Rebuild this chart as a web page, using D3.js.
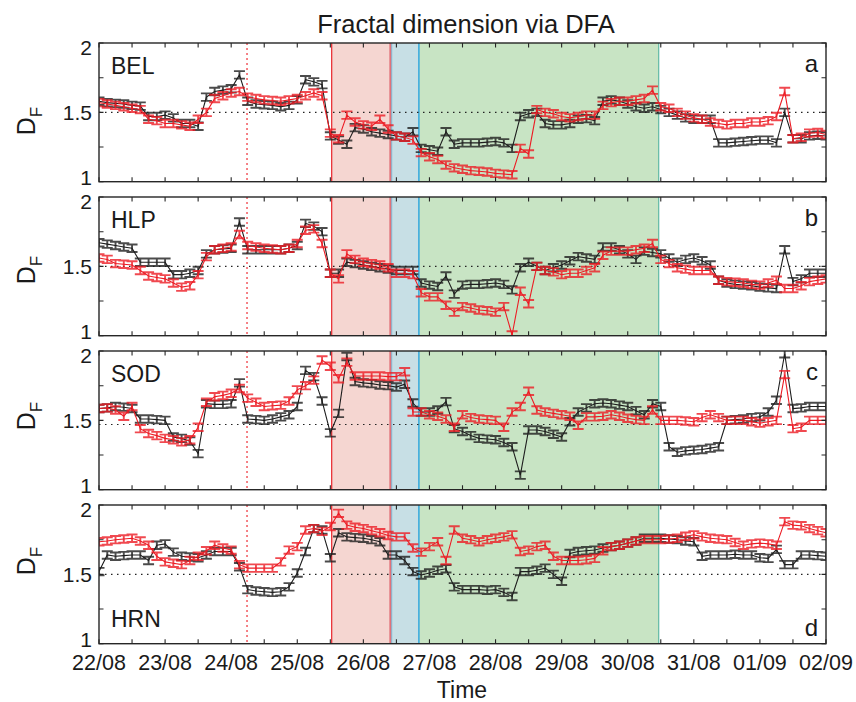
<!DOCTYPE html>
<html>
<head>
<meta charset="utf-8">
<script src="https://cdn.jsdelivr.net/npm/d3@7"></script>
<style>
  body { margin: 0; background: #fff; }
  svg { display: block; font-family: "Liberation Sans", Arial, Helvetica, sans-serif; }
</style>
</head>
<body>
<svg id="chart" width="856" height="702"></svg>
<script>
// ---- data -------------------------------------------------------------
const stations = ["BEL", "HLP", "SOD", "HRN"];
const panelLetters = ["a", "b", "c", "d"];
const tickLabelsY = [1, 1.5, 2];
const referenceLevels = [1.5, 1.5, 1.47, 1.5];

// sampling: every 3 hours from 22/08 00:00 to 02/09 00:00 (UTC)
const seriesStart = "2010-08-22T00:00Z";
const seriesEnd = "2010-09-02T00:00Z";
const sampleHours = 3;
const errorHalfWidth = 0.027;

// marked intervals and event
const periodStarts = ["2010-08-25T12:30Z", "2010-08-26T09:50Z", "2010-08-26T20:10Z"];
const periodEnds   = ["2010-08-26T09:50Z", "2010-08-26T20:10Z", "2010-08-30T11:15Z"];
const eventTime = "2010-08-24T05:45Z";

const belBlack = [
  1.58,1.57,1.565,1.56,1.55,1.545,1.47,1.47,
  1.48,1.46,1.42,1.42,1.40,1.61,1.65,1.66,
  1.67,1.77,1.58,1.56,1.555,1.55,1.54,1.55,
  1.59,1.735,1.72,1.70,1.33,1.30,1.27,1.39,
  1.38,1.36,1.35,1.34,1.33,1.32,1.36,1.24,
  1.23,1.22,1.36,1.27,1.28,1.28,1.28,1.285,
  1.29,1.28,1.24,1.47,1.49,1.50,1.42,1.41,
  1.41,1.42,1.45,1.455,1.44,1.58,1.59,1.58,
  1.56,1.54,1.53,1.54,1.52,1.50,1.48,1.46,
  1.45,1.45,1.45,1.28,1.28,1.285,1.29,1.295,
  1.30,1.30,1.28,1.50,1.31,1.31,1.33,1.335,
  1.33];
const belRed = [
  1.57,1.56,1.55,1.54,1.53,1.52,1.45,1.44,
  1.42,1.42,1.41,1.40,1.45,1.50,1.60,1.62,
  1.64,1.65,1.61,1.60,1.59,1.585,1.58,1.59,
  1.60,1.62,1.64,1.62,1.35,1.31,1.48,1.43,
  1.41,1.40,1.45,1.38,1.33,1.32,1.30,1.21,
  1.18,1.16,1.12,1.10,1.09,1.08,1.075,1.07,
  1.06,1.055,1.05,1.24,1.20,1.52,1.50,1.49,
  1.47,1.46,1.47,1.48,1.48,1.55,1.57,1.58,
  1.58,1.59,1.60,1.66,1.54,1.53,1.50,1.48,
  1.46,1.45,1.43,1.42,1.41,1.42,1.42,1.43,
  1.43,1.44,1.47,1.65,1.31,1.32,1.35,1.355,
  1.34];
const hlpBlack = [
  1.67,1.66,1.65,1.64,1.63,1.53,1.53,1.53,
  1.53,1.44,1.44,1.45,1.47,1.59,1.62,1.625,
  1.63,1.82,1.62,1.62,1.62,1.62,1.62,1.63,
  1.65,1.81,1.79,1.75,1.45,1.45,1.53,1.52,
  1.51,1.50,1.49,1.48,1.47,1.47,1.47,1.38,
  1.365,1.355,1.43,1.30,1.365,1.37,1.37,1.375,
  1.38,1.37,1.33,1.49,1.53,1.50,1.47,1.49,
  1.51,1.54,1.57,1.56,1.55,1.64,1.64,1.62,
  1.59,1.55,1.61,1.60,1.59,1.56,1.53,1.55,
  1.56,1.54,1.51,1.40,1.38,1.37,1.365,1.36,
  1.35,1.345,1.34,1.62,1.39,1.41,1.45,1.45,
  1.45];
const hlpRed = [
  1.56,1.55,1.52,1.515,1.51,1.47,1.43,1.42,
  1.41,1.38,1.35,1.36,1.44,1.57,1.62,1.63,
  1.64,1.73,1.65,1.64,1.63,1.625,1.62,1.63,
  1.665,1.76,1.77,1.665,1.45,1.41,1.59,1.55,
  1.53,1.52,1.51,1.49,1.45,1.45,1.44,1.31,
  1.28,1.28,1.22,1.17,1.21,1.20,1.185,1.18,
  1.17,1.21,1.005,1.32,1.23,1.50,1.47,1.46,
  1.44,1.45,1.45,1.47,1.49,1.58,1.61,1.61,
  1.61,1.62,1.63,1.665,1.55,1.52,1.49,1.48,
  1.47,1.47,1.47,1.40,1.39,1.385,1.38,1.37,
  1.365,1.38,1.40,1.34,1.34,1.36,1.39,1.40,
  1.41];
const sodBlack = [
  1.585,1.59,1.60,1.595,1.585,1.51,1.51,1.505,
  1.50,1.38,1.37,1.35,1.26,1.62,1.615,1.615,
  1.62,1.77,1.51,1.505,1.50,1.51,1.525,1.54,
  1.60,1.86,1.815,1.64,1.41,1.55,1.96,1.78,
  1.77,1.765,1.755,1.75,1.74,1.76,1.625,1.56,
  1.56,1.575,1.635,1.44,1.42,1.39,1.37,1.365,
  1.36,1.34,1.31,1.105,1.43,1.43,1.42,1.40,
  1.38,1.49,1.56,1.59,1.62,1.625,1.62,1.61,
  1.60,1.57,1.54,1.62,1.60,1.31,1.27,1.28,
  1.285,1.29,1.30,1.31,1.50,1.505,1.51,1.52,
  1.525,1.56,1.645,1.98,1.585,1.59,1.60,1.60,
  1.60];
const sodRed = [
  1.585,1.59,1.575,1.53,1.60,1.44,1.405,1.39,
  1.37,1.36,1.345,1.36,1.45,1.63,1.67,1.68,
  1.695,1.73,1.66,1.63,1.60,1.605,1.61,1.64,
  1.72,1.75,1.79,1.935,1.89,1.80,1.92,1.82,
  1.82,1.82,1.82,1.815,1.815,1.85,1.56,1.56,
  1.54,1.53,1.51,1.45,1.54,1.52,1.51,1.505,
  1.50,1.45,1.56,1.60,1.71,1.575,1.56,1.55,
  1.54,1.53,1.465,1.525,1.525,1.53,1.54,1.53,
  1.515,1.505,1.50,1.575,1.50,1.50,1.50,1.495,
  1.49,1.52,1.54,1.52,1.50,1.50,1.50,1.49,
  1.48,1.49,1.50,1.83,1.44,1.45,1.50,1.50,
  1.50];
const hrnBlack = [
  1.52,1.64,1.63,1.635,1.64,1.64,1.60,1.71,
  1.72,1.66,1.63,1.625,1.62,1.64,1.665,1.665,
  1.665,1.555,1.39,1.38,1.375,1.37,1.375,1.41,
  1.51,1.665,1.83,1.82,1.62,1.80,1.77,1.765,
  1.76,1.75,1.735,1.64,1.64,1.60,1.52,1.495,
  1.51,1.53,1.54,1.41,1.39,1.39,1.39,1.385,
  1.39,1.37,1.34,1.52,1.52,1.53,1.545,1.50,
  1.45,1.65,1.665,1.67,1.675,1.69,1.70,1.71,
  1.725,1.74,1.76,1.76,1.76,1.755,1.75,1.74,
  1.735,1.63,1.64,1.64,1.64,1.645,1.64,1.64,
  1.62,1.615,1.68,1.57,1.57,1.64,1.64,1.635,
  1.63];
const hrnRed = [
  1.735,1.74,1.75,1.755,1.76,1.74,1.71,1.63,
  1.59,1.58,1.57,1.60,1.63,1.67,1.71,1.69,
  1.675,1.57,1.545,1.545,1.545,1.545,1.59,1.675,
  1.70,1.82,1.83,1.81,1.845,1.94,1.855,1.84,
  1.83,1.815,1.80,1.78,1.77,1.77,1.69,1.66,
  1.70,1.735,1.60,1.82,1.76,1.75,1.735,1.75,
  1.76,1.77,1.785,1.665,1.675,1.70,1.71,1.63,
  1.60,1.60,1.60,1.605,1.615,1.67,1.70,1.71,
  1.725,1.74,1.75,1.75,1.75,1.755,1.76,1.775,
  1.785,1.77,1.76,1.755,1.75,1.73,1.71,1.72,
  1.725,1.72,1.71,1.88,1.855,1.85,1.83,1.815,
  1.80];

const darkSeries = [belBlack, hlpBlack, sodBlack, hrnBlack];
const redSeries = [belRed, hlpRed, sodRed, hrnRed];

// ---- layout -------------------------------------------------------------
const svg = d3.select("#chart");
const left = 99, right = 826;
const panelTop0 = 43, panelStep = 154, panelHeight = 138.7;
const ylabelCenters = [121, 270, 416, 561];
const darkColor = "#1e1e1e", redColor = "#ec1c24";
const periodFills = ["#f5d6d1", "#c7dfe5", "#c8e4c4"];
const inkColor = "#262626";

const t0 = new Date(seriesStart), t1 = new Date(seriesEnd);
const times = d3.utcHour.every(sampleHours).range(t0, d3.utcHour.offset(t1, 1));

const x = d3.scaleUtc().domain([t0, t1]).range([left, right]);
const fmt = d3.utcFormat("%d/%m");

// title
svg.append("text")
  .attr("x", 466).attr("y", 33)
  .attr("text-anchor", "middle")
  .attr("font-size", 25.5).attr("fill", "#1a1a1a")
  .text("Fractal dimension via DFA");

stations.forEach((name, p) => {
  const top = panelTop0 + p * panelStep;
  const bottom = top + panelHeight;
  const y = d3.scaleLinear().domain([1, 2]).range([bottom, top]);
  const g = svg.append("g");

  const clipId = "clip" + p;
  svg.append("clipPath").attr("id", clipId)
    .append("rect").attr("x", left).attr("y", top)
    .attr("width", right - left).attr("height", panelHeight);

  // shaded intervals
  periodStarts.forEach((s, k) => {
    g.append("rect")
      .attr("x", x(new Date(s))).attr("y", top)
      .attr("width", x(new Date(periodEnds[k])) - x(new Date(s)))
      .attr("height", panelHeight)
      .attr("fill", periodFills[k]);
  });
  const edge = (t, color, w) => g.append("line")
    .attr("x1", x(new Date(t))).attr("x2", x(new Date(t)))
    .attr("y1", top).attr("y2", bottom)
    .attr("stroke", color).attr("stroke-width", w);
  edge(periodStarts[0], "#e8242b", 1.2);
  edge(periodEnds[0], "#e0737a", 2.2);
  g.append("line")
    .attr("x1", x(new Date(periodEnds[0])) + 1.3).attr("x2", x(new Date(periodEnds[0])) + 1.3)
    .attr("y1", top).attr("y2", bottom)
    .attr("stroke", "#6fb7d8").attr("stroke-width", 0.8);
  edge(periodEnds[1], "#32a8de", 1.5);
  edge(periodEnds[2], "#5fb8a3", 1.2);

  // reference level
  g.append("line")
    .attr("x1", left).attr("x2", right)
    .attr("y1", y(referenceLevels[p])).attr("y2", y(referenceLevels[p]))
    .attr("stroke", "#222").attr("stroke-width", 1.1)
    .attr("stroke-dasharray", "1.5,4.5");

  // event marker
  g.append("line")
    .attr("x1", x(new Date(eventTime))).attr("x2", x(new Date(eventTime)))
    .attr("y1", top).attr("y2", bottom)
    .attr("stroke", "#ec1c24").attr("stroke-width", 1.1)
    .attr("stroke-dasharray", "2,3");

  // series with error bars
  const drawSeries = (values, color) => {
    const pts = values.map((v, i) => ({ t: times[i], v }));
    const sg = g.append("g").attr("clip-path", `url(#${clipId})`);
    sg.append("path")
      .datum(pts)
      .attr("fill", "none").attr("stroke", color).attr("stroke-width", 1.1)
      .attr("d", d3.line().x(d => x(d.t)).y(d => y(d.v)));
    sg.append("path")
      .attr("fill", "none").attr("stroke", color).attr("stroke-width", 1.9)
      .attr("stroke-opacity", 0.8)
      .attr("d", pts.map(d => {
        const cx = x(d.t), ya = y(d.v + errorHalfWidth), yb = y(d.v - errorHalfWidth);
        return `M${cx - 5.5},${ya}H${cx + 5.5}M${cx},${ya}V${yb}M${cx - 5.5},${yb}H${cx + 5.5}`;
      }).join(""));
  };
  drawSeries(darkSeries[p], darkColor);
  drawSeries(redSeries[p], redColor);

  // frame
  g.append("rect")
    .attr("x", left).attr("y", top)
    .attr("width", right - left).attr("height", panelHeight)
    .attr("fill", "none").attr("stroke", inkColor).attr("stroke-width", 1.4);

  // inward ticks
  const xTicks = d3.utcHour.every(12).range(t0, d3.utcHour.offset(t1, 1));
  const tickLen = 4.5;
  g.append("path")
    .attr("stroke", inkColor).attr("stroke-width", 1.1).attr("fill", "none")
    .attr("d", xTicks.map(t => {
      const tx = x(t);
      return `M${tx},${bottom}V${bottom - tickLen}M${tx},${top}V${top + tickLen}`;
    }).join("") + [1, 1.25, 1.5, 1.75, 2].map(v =>
      `M${left},${y(v)}H${left + tickLen}M${right},${y(v)}H${right - tickLen}`).join(""));

  // y tick labels (end labels nudged inward so neighbouring panels don't collide)
  tickLabelsY.forEach(v => {
    const nudge = v === 2 ? 4 : v === 1 ? -4 : 0;
    g.append("text")
      .attr("x", 92).attr("y", y(v) + nudge)
      .attr("dy", "0.36em")
      .attr("text-anchor", "end")
      .attr("font-size", 21).attr("fill", "#1a1a1a")
      .text(v === 1.5 ? "1.5" : String(v));
  });

  // y axis label D_F
  const yl = svg.append("text")
    .attr("transform", `translate(35,${ylabelCenters[p]}) rotate(-90)`)
    .attr("text-anchor", "middle")
    .attr("font-size", 25).attr("fill", "#1a1a1a");
  yl.append("tspan").text("D");
  yl.append("tspan").attr("font-size", 17).attr("dy", 7).text("F");

  // station and panel letter
  const atBottom = name === "HRN";
  svg.append("text")
    .attr("x", 111).attr("y", atBottom ? bottom - 17 : top + 31)
    .attr("font-size", 23).attr("fill", "#1a1a1a")
    .text(name);
  svg.append("text")
    .attr("x", 818).attr("y", atBottom ? bottom - 8 : top + 29)
    .attr("text-anchor", "end")
    .attr("font-size", 24).attr("fill", "#1a1a1a")
    .text(panelLetters[p]);

  // date labels under the last panel
  if (p === stations.length - 1) {
    const days = d3.utcDay.range(t0, d3.utcDay.offset(t1, 1));
    days.forEach(d => {
      svg.append("text")
        .attr("x", x(d)).attr("y", bottom + 26)
        .attr("text-anchor", "middle")
        .attr("font-size", 21.5).attr("fill", "#1a1a1a")
        .text(fmt(d));
    });
    svg.append("text")
      .attr("x", 462).attr("y", 698)
      .attr("text-anchor", "middle")
      .attr("font-size", 23).attr("fill", "#1a1a1a")
      .text("Time");
  }
});
</script>
</body>
</html>
